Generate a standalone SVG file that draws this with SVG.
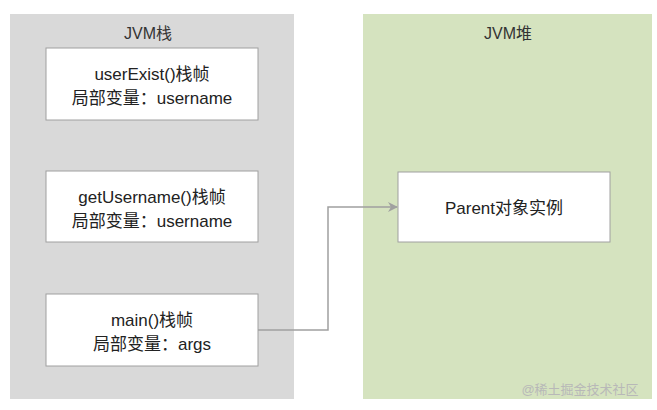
<svg xmlns="http://www.w3.org/2000/svg" width="657" height="410" viewBox="0 0 657 410">
<style>
.box{fill:#fff;stroke:#a0a0a0;stroke-width:1}
text{font-family:"Liberation Sans","Noto Sans CJK SC",sans-serif;font-size:17px;fill:#222;text-anchor:middle}
.t{font-size:16px;fill:#333}
</style>
<defs><marker id="a" markerWidth="10" markerHeight="10" refX="9" refY="5" orient="auto" markerUnits="userSpaceOnUse"><path d="M0,0 L10,5 L0,10 L3,5 Z" fill="#a0a0a0"/></marker></defs>
<rect width="657" height="410" fill="#fff"/>
<g id="stack"><rect x="10" y="14" width="284" height="385" fill="#d9d9d9"/><text class="t" x="148" y="39">JVM栈</text></g>
<g id="heap"><rect x="363" y="14" width="289" height="385" fill="#d5e3bf"/><text class="t" x="508" y="39">JVM堆</text></g>
<g id="userExist"><rect class="box" x="46" y="48" width="212" height="72"/><text x="152" y="80">userExist()栈帧</text><text x="152" y="104">局部变量：username</text></g>
<g id="getUsername"><rect class="box" x="46" y="171" width="212" height="71"/><text x="152" y="203">getUsername()栈帧</text><text x="152" y="227">局部变量：username</text></g>
<g id="main"><rect class="box" x="46" y="294" width="212" height="72"/><text x="152" y="326">main()栈帧</text><text x="152" y="350">局部变量：args</text></g>
<g id="parent"><rect class="box" x="398" y="172" width="212" height="70"/><text x="504" y="214">Parent对象实例</text></g>
<g id="connectors"><path d="M258,330 H328 V207 H397" fill="none" stroke="#a0a0a0" stroke-width="1.5" marker-end="url(#a)"/></g>
<text x="580" y="394" style="font-size:13px;fill:#b8b8b8">@稀土掘金技术社区</text>
</svg>
